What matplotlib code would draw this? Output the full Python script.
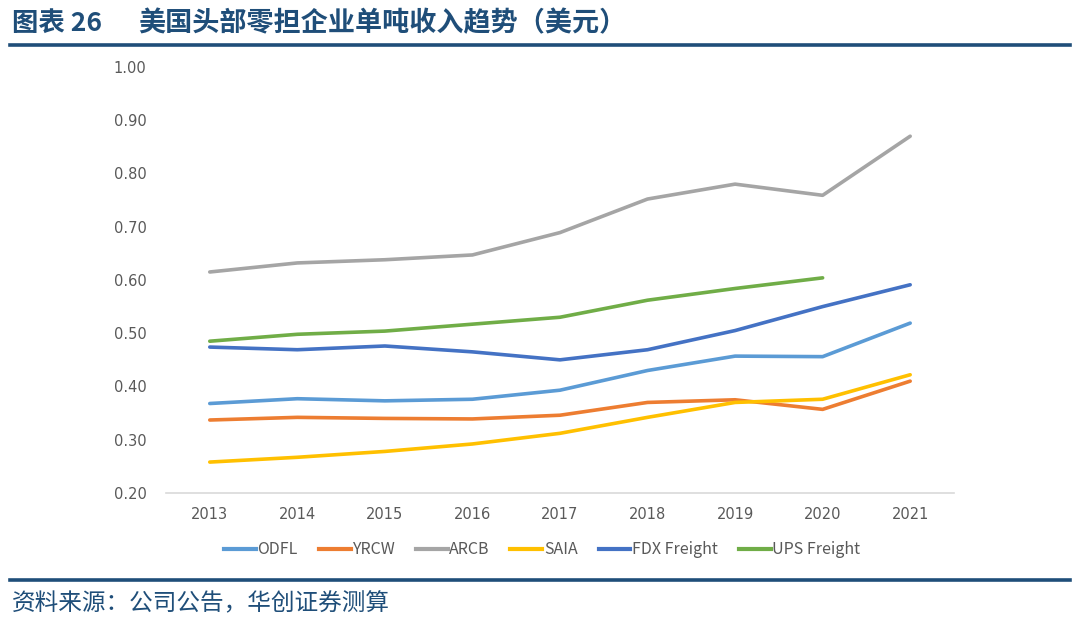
import matplotlib.pyplot as plt
from matplotlib.lines import Line2D

plt.rcParams['font.family'] = ['Noto Sans CJK SC', 'DejaVu Sans']

# 年份与各公司单吨收入（美元）
years = [2013, 2014, 2015, 2016, 2017, 2018, 2019, 2020, 2021]
odfl = [0.368, 0.377, 0.373, 0.376, 0.393, 0.430, 0.457, 0.456, 0.519]
yrcw = [0.337, 0.342, 0.340, 0.339, 0.346, 0.370, 0.375, 0.357, 0.410]
arcb = [0.615, 0.632, 0.638, 0.647, 0.689, 0.752, 0.780, 0.759, 0.870]
saia = [0.258, 0.267, 0.278, 0.292, 0.312, 0.342, 0.370, 0.376, 0.422]
fdx = [0.474, 0.469, 0.476, 0.465, 0.450, 0.469, 0.505, 0.550, 0.591]
ups = [0.485, 0.498, 0.504, 0.517, 0.530, 0.562, 0.584, 0.604]
yticks = [0.20, 0.30, 0.40, 0.50, 0.60, 0.70, 0.80, 0.90, 1.00]

series = [
    ("ODFL", years, odfl, "#5B9BD5"),
    ("YRCW", years, yrcw, "#ED7D31"),
    ("ARCB", years, arcb, "#A5A5A5"),
    ("SAIA", years, saia, "#FFC000"),
    ("FDX Freight", years, fdx, "#4472C4"),
    ("UPS Freight", years[:len(ups)], ups, "#70AD47"),
]

dark = "#1F4E79"
fig = plt.figure(figsize=(10.8, 6.32), dpi=100)
ax = fig.add_axes([0.1537, 0.22, 0.7296, 0.674])

for name, x, y, c in series:
    ax.plot(x, y, color=c, lw=2.6, label=name, solid_capstyle='round')

ax.set_xlim(2012.5, 2021.5)
ax.set_ylim(0.2, 1.0)
ax.set_xticks(years)
ax.set_yticks(yticks)
ax.set_yticklabels([f"{v:.2f}" for v in yticks])
for s in ['top', 'right', 'left']:
    ax.spines[s].set_visible(False)
ax.spines['bottom'].set_color('#D9D9D9')
ax.spines['bottom'].set_linewidth(1.2)
ax.tick_params(axis='both', length=0, labelsize=10.5, colors='#595959')
ax.tick_params(axis='x', pad=10)
ax.tick_params(axis='y', pad=14)
for lab in ax.get_xticklabels() + ax.get_yticklabels():
    lab.set_fontfamily('DejaVu Sans')

handles = [Line2D([], [], color=c, lw=3) for _, _, _, c in series]
fig.legend(handles, [s[0] for s in series], loc='center', bbox_to_anchor=(0.502, 0.13),
           ncol=6, frameon=False, fontsize=11.5, handlelength=2.0, handletextpad=0.1,
           columnspacing=1.3, labelcolor='#595959')

# 标题和页脚
fig.text(0.011, 0.963, "图表 26", fontsize=19, fontweight='bold', color=dark, va='center')
fig.text(0.128, 0.963, "美国头部零担企业单吨收入趋势（美元）", fontsize=19.5, fontweight='bold',
         color=dark, va='center')
fig.add_artist(Line2D([0.009, 0.991], [0.929, 0.929], color=dark, lw=2.6))
fig.add_artist(Line2D([0.009, 0.991], [0.083, 0.083], color=dark, lw=2.6))
fig.text(0.011, 0.045, "资料来源：公司公告，华创证券测算", fontsize=17, color=dark, va='center')

fig.savefig("out.png", dpi=100)
